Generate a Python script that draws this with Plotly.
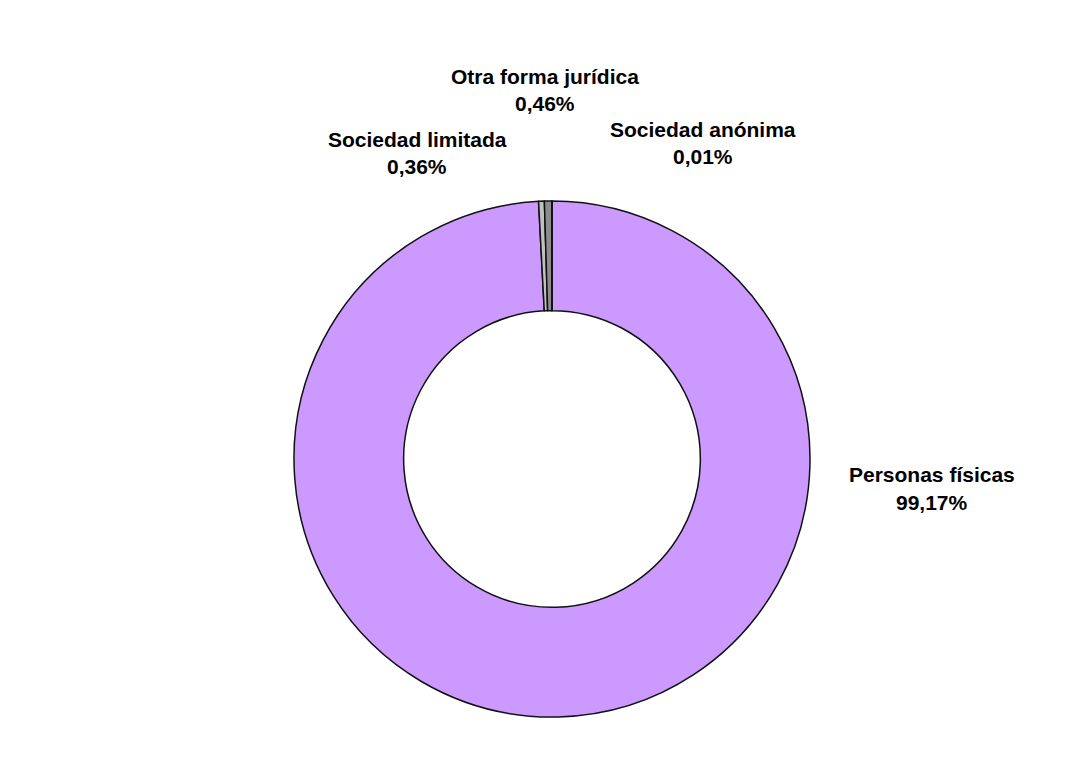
import plotly.graph_objects as go

# Distribución por forma jurídica (%)
categorias = ["Personas físicas", "Sociedad limitada", "Otra forma jurídica", "Sociedad anónima"]
porcentajes = [99.17, 0.36, 0.46, 0.01]
colores = ["#CC99FF", "#C0C0C0", "#8C8C8C", "#404040"]

# Posición de cada etiqueta en píxeles: centro x, centro y de la línea del nombre
W, H = 1087, 767
pos_etiquetas = {
    "Personas físicas": (932, 475),
    "Sociedad limitada": (417, 139),
    "Otra forma jurídica": (545, 77),
    "Sociedad anónima": (703, 129),
}
SALTO = 27  # separación entre la línea del nombre y la del porcentaje

def fmt(v):
    return f"{v:.2f}".replace(".", ",") + "%"

fig = go.Figure(go.Pie(
    labels=categorias,
    values=porcentajes,
    marker=dict(colors=colores, line=dict(color="#111111", width=1.5)),
    hole=0.575,
    sort=False,
    direction="clockwise",
    rotation=0,
    textinfo="none",
    hoverinfo="label+percent",
    showlegend=False,
    domain=dict(x=[(552 - 258) / W, (552 + 258) / W],
                y=[(H - 459 - 258) / H, (H - 459 + 258) / H]),
))

fuente = dict(family="Arial, Liberation Sans, sans-serif", size=21, color="#000000")
for cat, val in zip(categorias, porcentajes):
    x, y = pos_etiquetas[cat]
    for texto, yy in ((cat, y), (fmt(val), y + SALTO)):
        fig.add_annotation(
            x=x / W, y=1 - yy / H, xref="paper", yref="paper",
            text=f"<b>{texto}</b>",
            showarrow=False, font=fuente, align="center",
            xanchor="center", yanchor="middle",
        )

fig.update_layout(
    width=W, height=H,
    margin=dict(l=0, r=0, t=0, b=0),
    paper_bgcolor="white", plot_bgcolor="white",
)

fig.write_html("out.html")
